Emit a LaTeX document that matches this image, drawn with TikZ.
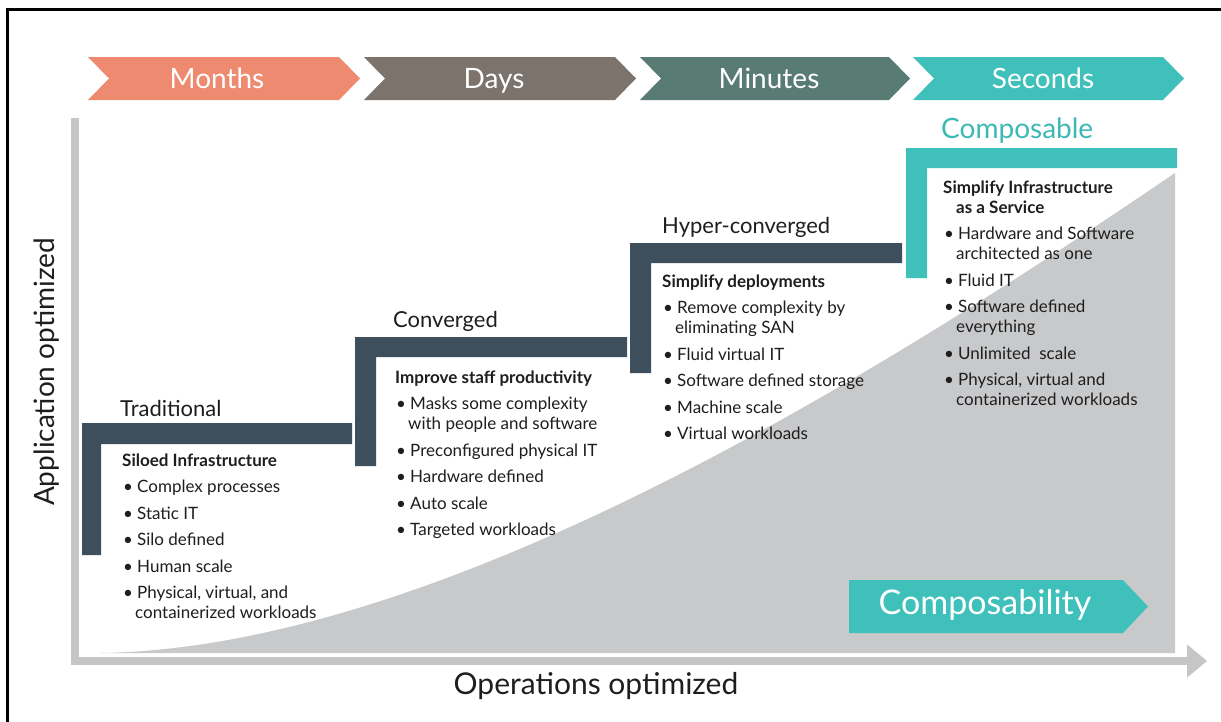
\documentclass[tikz,border=0pt]{standalone}
\usepackage{fontspec}
\setmainfont{Lato}
\usetikzlibrary{arrows.meta}
\definecolor{salmon}{HTML}{EE8A6F}
\definecolor{taupe}{HTML}{7D736D}
\definecolor{darkteal}{HTML}{587B74}
\definecolor{teal}{HTML}{40C0BB}
\definecolor{tealtext}{HTML}{3DB9B4}
\definecolor{slate}{HTML}{3D4F5C}
\definecolor{areagray}{HTML}{C8C9CB}
\definecolor{axisgray}{HTML}{C6C6C6}
\definecolor{ink}{HTML}{1E1E1E}
\newcommand\fsz[2]{\fontsize{#1}{#2}\selectfont}
\newcommand\bl[1]{\vskip6.5pt\hbox{\hspace*{1pt}\makebox[14pt][l]{\textbullet}#1}}
\newcommand\cn[1]{\hbox{\hspace*{13pt}#1}}
\newcommand\hd[1]{\hbox{\textbf{#1}}}
\newcommand\blist[1]{\vtop{\fsz{17}{20}\baselineskip=20pt\lineskiplimit=-10pt #1}}
\tikzset{
  chev/.style={inner sep=0pt, text=white, font=\fsz{28}{30}},
  stage/.style={anchor=base west, inner sep=0pt, text=ink, font=\fsz{22}{24}},
  listtext/.style={anchor=base west, inner sep=0pt, text=ink, font=\fsz{17}{20}},
  axislabel/.style={inner sep=0pt, text=ink, font=\fsz{28}{30}},
}
\begin{document}
\begin{tikzpicture}[x=1pt,y=-1pt]
\useasboundingbox (0,0) rectangle (1221,721);
\fill[white] (0,0) rectangle (1221,721);
% frame
\draw[line width=3pt] (7,730) -- (7,9) -- (1230,9);
% time chevrons
\fill[salmon]   (88,57) -- (339,57) -- (360,78.5) -- (339,100) -- (88,100) -- (109,78.5) -- cycle;
\fill[taupe]    (364,57) -- (615,57) -- (636,78.5) -- (615,100) -- (364,100) -- (385,78.5) -- cycle;
\fill[darkteal] (640,57) -- (889,57) -- (910,78.5) -- (889,100) -- (640,100) -- (661,78.5) -- cycle;
\fill[teal]     (913,57) -- (1163,57) -- (1184,78.5) -- (1163,100) -- (913,100) -- (934,78.5) -- cycle;
\node[chev, anchor=base] (months)  at (217,88) {Months};
\node[chev, anchor=base] (days)    at (494,88) {Days};
\node[chev, anchor=base] (minutes) at (769,88) {Minutes};
\node[chev, anchor=base] (seconds) at (1043,88) {Seconds};
% grey area
\fill[areagray] (100,653) .. controls (450,648) and (900,360) .. (1175,173) -- (1175,653) -- cycle;
% axes
\draw[axisgray, line width=7.5pt, -{Triangle[length=20pt,width=32pt]}] (75,118) -- (75,661) -- (1207,661);
\node[axislabel, rotate=90] (ylab) at (47,372) {Application optimized};
\node[axislabel, font=\fsz{30}{32}] (xlab) at (596,686) {Operations optimized};
% stage brackets
\fill[slate] (82,423) -- (352,423) -- (352,444) -- (101,444) -- (101,555) -- (82,555) -- cycle;
\fill[slate] (355,337) -- (627,337) -- (627,357) -- (376,357) -- (376,466) -- (355,466) -- cycle;
\fill[slate] (630,243) -- (902,243) -- (902,263) -- (651,263) -- (651,373) -- (630,373) -- cycle;
\fill[teal]  (906,148) -- (1177,148) -- (1177,168) -- (927,168) -- (927,278) -- (906,278) -- cycle;
% stage titles
\node[stage] (trad) at (120,416) {Traditional};
\node[stage] (conv) at (393,327) {Converged};
\node[stage] (hyper) at (662,233) {Hyper-converged};
\node[stage, text=tealtext, font=\fsz{28}{30}] (comp) at (941,138) {Composable};
% lists
\node[listtext] (tradlist) at (122,466) {\blist{\hd{Siloed Infrastructure}
\bl{Complex processes}
\bl{Static IT}
\bl{Silo defined}
\bl{Human scale}
\bl{Physical, virtual, and}
\cn{containerized workloads}}};
\node[listtext] (convlist) at (395,383) {\blist{\hd{Improve staff productivity}
\bl{Masks some complexity}
\cn{with people and software}
\bl{Preconfigured physical IT}
\bl{Hardware defined}
\bl{Auto scale}
\bl{Targeted workloads}}};
\node[listtext] (hyperlist) at (662,287) {\blist{\hd{Simplify deployments}
\bl{Remove complexity by}
\cn{eliminating SAN}
\bl{Fluid virtual IT}
\bl{Software defined storage}
\bl{Machine scale}
\bl{Virtual workloads}}};
\node[listtext] (complist) at (943,193) {\blist{\hd{Simplify Infrastructure}
\hbox{\hspace*{13pt}\textbf{as a Service}}
\bl{Hardware and Software}
\cn{architected as one}
\bl{Fluid IT}
\bl{Software defined}
\cn{everything}
\bl{Unlimited\ \ scale}
\bl{Physical, virtual and}
\cn{containerized workloads}}};
% composability chevron
\fill[teal] (849,580) -- (1123,580) -- (1148,606.5) -- (1123,633) -- (849,633) -- cycle;
\node[chev, font=\fsz{34}{36}] (compy) at (985,605) {Composability};
\end{tikzpicture}
\end{document}
